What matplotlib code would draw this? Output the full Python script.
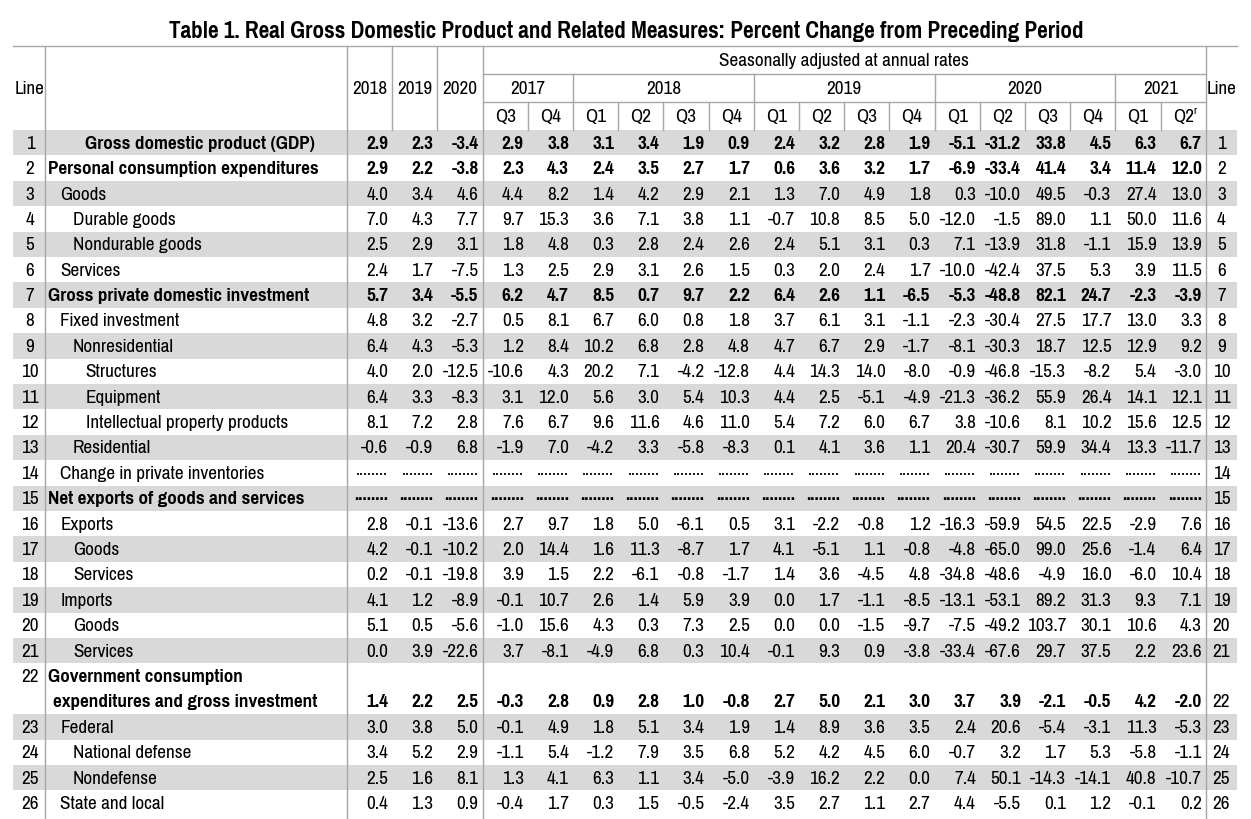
import matplotlib
matplotlib.use('Agg')
import matplotlib.pyplot as plt

plt.rcParams['font.family'] = ['Liberation Sans Narrow', 'Arial Narrow', 'Pragati Narrow', 'Roboto Condensed',
                               'Archivo Narrow', 'PT Sans Narrow', 'Liberation Sans', 'DejaVu Sans']

title = 'Table 1. Real Gross Domestic Product and Related Measures: Percent Change from Preceding Period'

annual_years = ['2018', '2019', '2020']
quarter_years = ['2017', '2018', '2019', '2020', '2021']
quarters = ['Q3', 'Q4',
            'Q1', 'Q2', 'Q3', 'Q4',
            'Q1', 'Q2', 'Q3', 'Q4',
            'Q1', 'Q2', 'Q3', 'Q4',
            'Q1', 'Q2']
quarters_per_year = [2, 4, 4, 4, 2]

labels = [
    'Gross domestic product (GDP)',
    'Personal consumption expenditures',
    'Goods',
    'Durable goods',
    'Nondurable goods',
    'Services',
    'Gross private domestic investment',
    'Fixed investment',
    'Nonresidential',
    'Structures',
    'Equipment',
    'Intellectual property products',
    'Residential',
    'Change in private inventories',
    'Net exports of goods and services',
    'Exports',
    'Goods',
    'Services',
    'Imports',
    'Goods',
    'Services',
    'Government consumption\nexpenditures and gross investment',
    'Federal',
    'National defense',
    'Nondefense',
    'State and local',
]
indent = [0, 0, 1, 2, 2, 1, 0, 1, 2, 3, 3, 3, 2, 1, 0,
          1, 2, 2, 1, 2, 2, 0, 1, 2, 2, 1]
bold_rows = [1, 2, 7, 15, 22]

# annual 2018-2020, then 2017Q3 ... 2021Q2 ; None = not shown (dots)
values = [
    [2.9, 2.3, -3.4, 2.9, 3.8, 3.1, 3.4, 1.9, 0.9, 2.4, 3.2, 2.8, 1.9, -5.1, -31.2, 33.8, 4.5, 6.3, 6.7],
    [2.9, 2.2, -3.8, 2.3, 4.3, 2.4, 3.5, 2.7, 1.7, 0.6, 3.6, 3.2, 1.7, -6.9, -33.4, 41.4, 3.4, 11.4, 12.0],
    [4.0, 3.4, 4.6, 4.4, 8.2, 1.4, 4.2, 2.9, 2.1, 1.3, 7.0, 4.9, 1.8, 0.3, -10.0, 49.5, -0.3, 27.4, 13.0],
    [7.0, 4.3, 7.7, 9.7, 15.3, 3.6, 7.1, 3.8, 1.1, -0.7, 10.8, 8.5, 5.0, -12.0, -1.5, 89.0, 1.1, 50.0, 11.6],
    [2.5, 2.9, 3.1, 1.8, 4.8, 0.3, 2.8, 2.4, 2.6, 2.4, 5.1, 3.1, 0.3, 7.1, -13.9, 31.8, -1.1, 15.9, 13.9],
    [2.4, 1.7, -7.5, 1.3, 2.5, 2.9, 3.1, 2.6, 1.5, 0.3, 2.0, 2.4, 1.7, -10.0, -42.4, 37.5, 5.3, 3.9, 11.5],
    [5.7, 3.4, -5.5, 6.2, 4.7, 8.5, 0.7, 9.7, 2.2, 6.4, 2.6, 1.1, -6.5, -5.3, -48.8, 82.1, 24.7, -2.3, -3.9],
    [4.8, 3.2, -2.7, 0.5, 8.1, 6.7, 6.0, 0.8, 1.8, 3.7, 6.1, 3.1, -1.1, -2.3, -30.4, 27.5, 17.7, 13.0, 3.3],
    [6.4, 4.3, -5.3, 1.2, 8.4, 10.2, 6.8, 2.8, 4.8, 4.7, 6.7, 2.9, -1.7, -8.1, -30.3, 18.7, 12.5, 12.9, 9.2],
    [4.0, 2.0, -12.5, -10.6, 4.3, 20.2, 7.1, -4.2, -12.8, 4.4, 14.3, 14.0, -8.0, -0.9, -46.8, -15.3, -8.2, 5.4, -3.0],
    [6.4, 3.3, -8.3, 3.1, 12.0, 5.6, 3.0, 5.4, 10.3, 4.4, 2.5, -5.1, -4.9, -21.3, -36.2, 55.9, 26.4, 14.1, 12.1],
    [8.1, 7.2, 2.8, 7.6, 6.7, 9.6, 11.6, 4.6, 11.0, 5.4, 7.2, 6.0, 6.7, 3.8, -10.6, 8.1, 10.2, 15.6, 12.5],
    [-0.6, -0.9, 6.8, -1.9, 7.0, -4.2, 3.3, -5.8, -8.3, 0.1, 4.1, 3.6, 1.1, 20.4, -30.7, 59.9, 34.4, 13.3, -11.7],
    [None] * 19,
    [None] * 19,
    [2.8, -0.1, -13.6, 2.7, 9.7, 1.8, 5.0, -6.1, 0.5, 3.1, -2.2, -0.8, 1.2, -16.3, -59.9, 54.5, 22.5, -2.9, 7.6],
    [4.2, -0.1, -10.2, 2.0, 14.4, 1.6, 11.3, -8.7, 1.7, 4.1, -5.1, 1.1, -0.8, -4.8, -65.0, 99.0, 25.6, -1.4, 6.4],
    [0.2, -0.1, -19.8, 3.9, 1.5, 2.2, -6.1, -0.8, -1.7, 1.4, 3.6, -4.5, 4.8, -34.8, -48.6, -4.9, 16.0, -6.0, 10.4],
    [4.1, 1.2, -8.9, -0.1, 10.7, 2.6, 1.4, 5.9, 3.9, 0.0, 1.7, -1.1, -8.5, -13.1, -53.1, 89.2, 31.3, 9.3, 7.1],
    [5.1, 0.5, -5.6, -1.0, 15.6, 4.3, 0.3, 7.3, 2.5, 0.0, 0.0, -1.5, -9.7, -7.5, -49.2, 103.7, 30.1, 10.6, 4.3],
    [0.0, 3.9, -22.6, 3.7, -8.1, -4.9, 6.8, 0.3, 10.4, -0.1, 9.3, 0.9, -3.8, -33.4, -67.6, 29.7, 37.5, 2.2, 23.6],
    [1.4, 2.2, 2.5, -0.3, 2.8, 0.9, 2.8, 1.0, -0.8, 2.7, 5.0, 2.1, 3.0, 3.7, 3.9, -2.1, -0.5, 4.2, -2.0],
    [3.0, 3.8, 5.0, -0.1, 4.9, 1.8, 5.1, 3.4, 1.9, 1.4, 8.9, 3.6, 3.5, 2.4, 20.6, -5.4, -3.1, 11.3, -5.3],
    [3.4, 5.2, 2.9, -1.1, 5.4, -1.2, 7.9, 3.5, 6.8, 5.2, 4.2, 4.5, 6.0, -0.7, 3.2, 1.7, 5.3, -5.8, -1.1],
    [2.5, 1.6, 8.1, 1.3, 4.1, 6.3, 1.1, 3.4, -5.0, -3.9, 16.2, 2.2, 0.0, 7.4, 50.1, -14.3, -14.1, 40.8, -10.7],
    [0.4, 1.3, 0.9, -0.4, 1.7, 0.3, 1.5, -0.5, -2.4, 3.5, 2.7, 1.1, 2.7, 4.4, -5.5, 0.1, 1.2, -0.1, 0.2],
]

# ---- layout (pixel coords) ----
W, H = 1251, 820
left, right = 13, 1237
x_line = 45          # end of "Line" column
x_label = 347        # end of label column
col_w = 45.2
x_q0 = x_label + 3 * col_w
x_rline = x_q0 + 16 * col_w
top = 47
hdr_rows = [top, 75, 103, 131]
row_h = 25.4
fs = 15
grid = '#a6a6a6'
shade = '#d9d9d9'

fig = plt.figure(figsize=(W / 100, H / 100), dpi=100)
ax = fig.add_axes([0, 0, 1, 1])
ax.set_xlim(0, W)
ax.set_ylim(H, 0)
ax.axis('off')

ax.text(W / 2 + 1, 32, title, ha='center', va='center', fontsize=18.2, fontweight='bold')

# row tops; row 22 takes two lines
rows = []
y = hdr_rows[-1]
for lab in labels:
    n = lab.count('\n') + 1
    rows.append((y, n))
    y += n * row_h

# shading of odd rows
for i, (yt, n) in enumerate(rows):
    if i % 2 == 0:
        ax.add_patch(plt.Rectangle((left, yt), right - left, n * row_h,
                                   color=shade, lw=0, zorder=0))

# grid lines
def hline(y, x0, x1):
    ax.plot([x0, x1], [y, y], color=grid, lw=1, zorder=1)

def vline(x, y0, y1):
    ax.plot([x, x], [y0, y1], color=grid, lw=1, zorder=1)

hline(top, left, right)
hline(hdr_rows[1], x_q0, x_rline)
hline(hdr_rows[2], x_q0, x_rline)
for x in [x_line, x_label, x_q0, x_rline]:
    vline(x, top, H)
for k in range(1, 3):
    vline(x_label + k * col_w, top, hdr_rows[3])
for k in range(1, 16):
    vline(x_q0 + k * col_w, hdr_rows[2], hdr_rows[3])
acc = 0
for n in quarters_per_year[:-1]:
    acc += n
    vline(x_q0 + acc * col_w, hdr_rows[1], hdr_rows[2])

# header text
hmid = (top + hdr_rows[3]) / 2
ax.text((left + x_line) / 2 + 1, hmid, 'Line', ha='center', va='center', fontsize=fs)
ax.text((x_rline + right) / 2, hmid, 'Line', ha='center', va='center', fontsize=fs)
for k, yr in enumerate(annual_years):
    ax.text(x_label + (k + 0.5) * col_w, hmid, yr, ha='center', va='center', fontsize=fs)
ax.text((x_q0 + x_rline) / 2, (top + hdr_rows[1]) / 2, 'Seasonally adjusted at annual rates',
        ha='center', va='center', fontsize=fs)
acc = 0
for yr, n in zip(quarter_years, quarters_per_year):
    ax.text(x_q0 + (acc + n / 2) * col_w, (hdr_rows[1] + hdr_rows[2]) / 2, yr,
            ha='center', va='center', fontsize=fs)
    acc += n
for k, q in enumerate(quarters):
    ax.text(x_q0 + (k + 0.5) * col_w, (hdr_rows[2] + hdr_rows[3]) / 2, q,
            ha='center', va='center', fontsize=fs)
ax.text(x_q0 + 15.5 * col_w + 10, (hdr_rows[2] + hdr_rows[3]) / 2 - 6, 'r',
        ha='left', va='center', fontsize=9)

# body
for i, (yt, n) in enumerate(rows):
    line_no = i + 1
    fw = 'bold' if line_no in bold_rows else 'normal'
    y_first = yt + row_h / 2
    y_last = yt + (n - 0.5) * row_h
    ax.text((left + x_line) / 2 + 1, y_first, str(line_no), ha='center', va='center', fontsize=fs)
    ax.text((x_rline + right) / 2, y_last, str(line_no), ha='center', va='center', fontsize=fs)
    if line_no == 1:
        ax.text((x_line + x_label) / 2 + 4, y_first, labels[i], ha='center', va='center',
                fontsize=fs, fontweight=fw)
    else:
        for j, part in enumerate(labels[i].split('\n')):
            xo = x_line + 3 + indent[i] * 12.5 + (5 if j > 0 else 0)
            ax.text(xo, y_first + j * row_h, part, ha='left', va='center',
                    fontsize=fs, fontweight=fw)
    for c, v in enumerate(values[i]):
        xr = x_label + (c + 1) * col_w - 4
        if v is None:
            # row not shown: dot leaders
            ax.text(xr, y_last - 4, '........', ha='right', va='center', fontsize=14,
                    fontweight=fw)
        else:
            ax.text(xr, y_last, f'{v:.1f}', ha='right', va='center', fontsize=fs,
                    fontweight=fw)

fig.savefig('out.png', dpi=100)
